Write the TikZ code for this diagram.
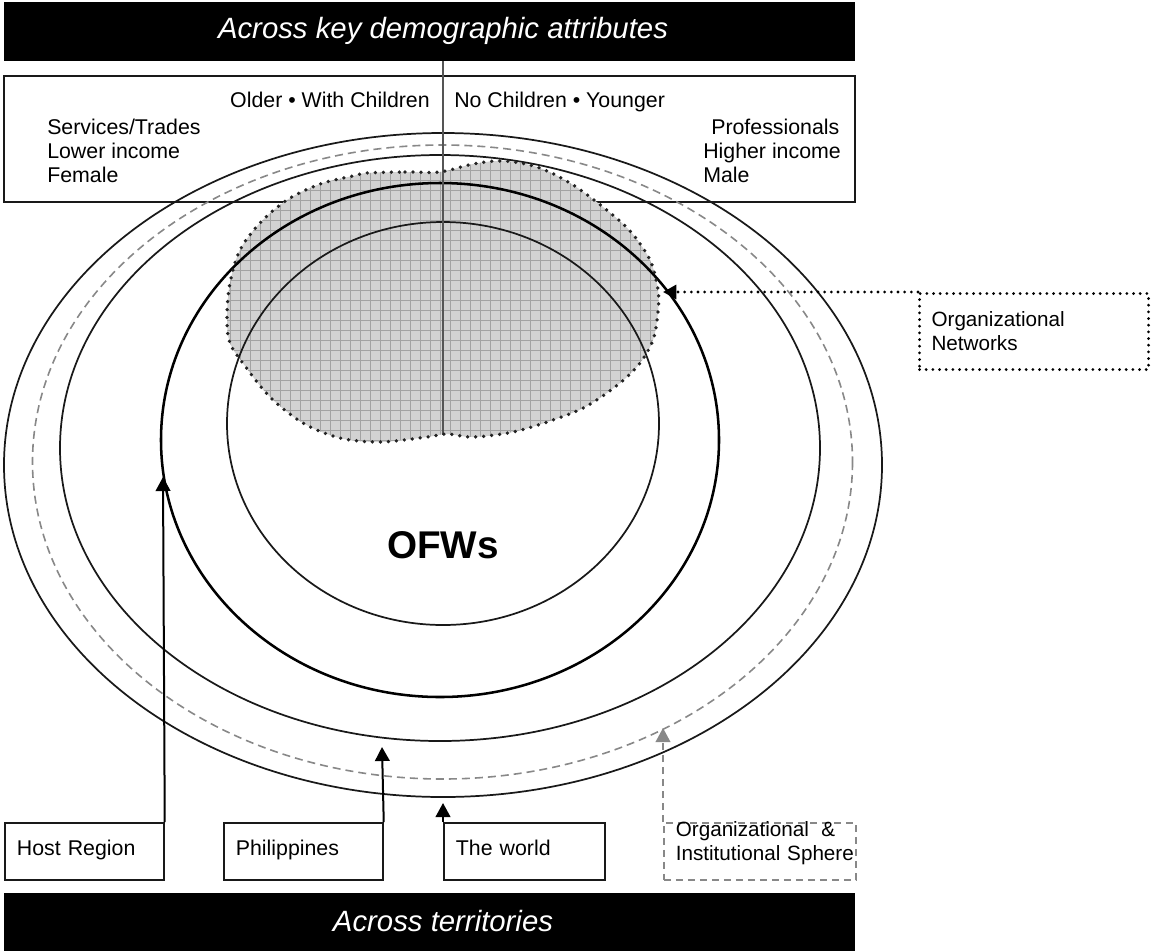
\documentclass[tikz,border=0pt]{standalone}
\usepackage{fontspec}
\setmainfont{Liberation Sans}
\usetikzlibrary{arrows.meta}

\definecolor{ink}{RGB}{25,25,25}
\definecolor{midgray}{RGB}{136,136,136}
\definecolor{blobfill}{RGB}{210,210,210}
\definecolor{gridgray}{RGB}{162,162,162}
\definecolor{dotgray}{RGB}{35,35,35}
\definecolor{axisgray}{RGB}{85,85,85}

% outline of the organizational-networks region
\def\blobpath{plot[smooth cycle, tension=0.55] coordinates {
  (367,173) (405,172) (440,172) (473,164) (503,161) (537,167) (570,183)
  (603,207) (630,231) (650,260) (658,290) (658,312) (653,340) (640,363)
  (620,383) (587,406) (553,420) (513,432) (473,437) (447,434) (427,437)
  (380,442) (340,438) (303,423) (270,397) (245,366) (230,343) (227,317)
  (230,283) (240,250) (260,223) (287,200) (320,184) (353,176)}}

\begin{document}
\begin{tikzpicture}[x=0.75pt, y=-0.75pt,
  txt/.style={font=\fontsize{16}{18}\selectfont, inner sep=0pt, text=black},
  bar/.style={fill=black, draw=none, inner sep=0pt,
              minimum width=638.25pt},
  bartxt/.style={font=\fontsize{22}{26}\selectfont\itshape, text=white, inner sep=0pt},
  ring/.style={draw=ink, line width=1.3pt},
  thickring/.style={draw=black, line width=1.9pt},
  dashring/.style={draw=midgray, line width=1.2pt, dash pattern=on 6pt off 3.75pt},
  framebox/.style={draw=ink, line width=1.3pt, inner xsep=9pt, inner ysep=0pt,
               minimum height=42.75pt, align=left},
  lbox/.style={framebox, text height=11pt, text depth=5pt,
               font=\fontsize{16}{18}\selectfont},
  dashbox/.style={framebox, draw=midgray, line width=1.2pt,
                  dash pattern=on 5.25pt off 3.75pt,
                  font=\fontsize{15.5}{18}\selectfont},
  dotbox/.style={draw=black, line width=2.3pt, line cap=round,
                 dash pattern=on 0pt off 5pt, inner xsep=9pt, inner ysep=0pt,
                 minimum height=57pt, align=left, font=\fontsize{15.5}{18}\selectfont},
  uparrow/.style={draw=black, line width=1.5pt,
                  -{Triangle[length=10.5pt, width=11pt]}},
  greyarrow/.style={draw=midgray, line width=1.2pt,
                    dash pattern=on 5.25pt off 3.75pt,
                    -{Triangle[length=10.5pt, width=11pt]}},
  dotarrow/.style={draw=black, line width=2.3pt, line cap=round,
                   dash pattern=on 0pt off 5pt,
                   -{Triangle[length=10pt, width=10.5pt]}},
  axis/.style={draw=axisgray, line width=1.4pt}
]
\useasboundingbox (0,0) rectangle (1152,951);

% banners
\node[bar, minimum height=44.25pt] (topbar) at (429.5,31.5) {};
\node[bartxt] (toptitle) at (443,31) {Across key demographic attributes};
\node[bar, minimum height=43.5pt] (botbar) at (429.5,922) {};
\node[bartxt] (bottitle) at (443,921) {Across territories};

% attribute panel
\node[draw=ink, line width=1.3pt, minimum width=638.25pt, minimum height=94.5pt,
      inner sep=0pt] (attr) at (429.5,139) {};
\node[txt, anchor=base east] (older) at (430,107) {Older • With Children};
\node[txt, anchor=base west] (younger) at (454,107) {No Children • Younger};
\node[txt, anchor=west, align=left] (lowside) at (47,151)
  {Services/Trades\\Lower income\\Female};
\node[txt, anchor=west, align=left] (highside) at (703,151)
  {\hspace*{6pt}Professionals\\Higher income\\Male};

% shaded networks region with its grid
\begin{scope}
  \clip \blobpath;
  \fill[blobfill] (200,140) rectangle (680,460);
  \foreach \gx in {220,230,...,670}
    \draw[gridgray, line width=0.6pt] (\gx,150) -- (\gx,450);
  \foreach \gy in {150,160,...,450}
    \draw[gridgray, line width=0.6pt] (210,\gy) -- (670,\gy);
\end{scope}

% nested spheres
\draw[ring] (443,465) ellipse (439 and 332);
\draw[dashring] (442.5,462) ellipse (410 and 317);
\draw[ring] (440,448) ellipse (380 and 293);
\draw[thickring] (440,440) ellipse (279 and 257);
\draw[ring] (443,423.5) ellipse (216 and 201.5);

% centre label and dividing axis
\node[font=\fontsize{29}{34}\selectfont\bfseries, inner sep=0pt] (ofw) at (443,545) {OFWs};
\coordinate (blobBot) at (443,435);
\draw[axis] (topbar.south -| ofw.center) -- (blobBot);

% dotted outline of the networks region
\draw[dotgray, line width=2.8pt, line cap=round, dash pattern=on 0pt off 6pt] \blobpath;

% territory boxes
\node[lbox, text width=101.25pt, anchor=north west] (host) at (4,822) {Host Region};
\node[lbox, text width=101.25pt, anchor=north west] (phil) at (223,822) {Philippines};
\node[lbox, text width=102.75pt, anchor=north west] (world) at (443,822) {The world};
\node[dashbox, text width=126pt, anchor=north west] (sphere) at (663,822)
  {\raisebox{6pt}[\height][\depth]{\begin{tabular}{@{}l@{}}
     Organizational\hspace{0.6em}\&\\Institutional Sphere\end{tabular}}};
\node[dotbox, text width=153.75pt, anchor=north west] (netw) at (918,292)
  {Organizational\\Networks};

% pointers
\coordinate (hostTip) at (163,477);
\coordinate (philTip) at (382,747);
\coordinate (worldTip) at (443,803);
\coordinate (sphereTip) at (663,728);
\coordinate (netTip) at (663,292);
\draw[uparrow] (host.north east) -- (hostTip);
\draw[uparrow] (phil.north east) -- (philTip);
\draw[uparrow] (world.north west) -- (worldTip);
\draw[greyarrow] (sphere.north west) -- (sphereTip);
\draw[dotarrow] (netw.north west) -- (netTip);
\end{tikzpicture}
\end{document}
